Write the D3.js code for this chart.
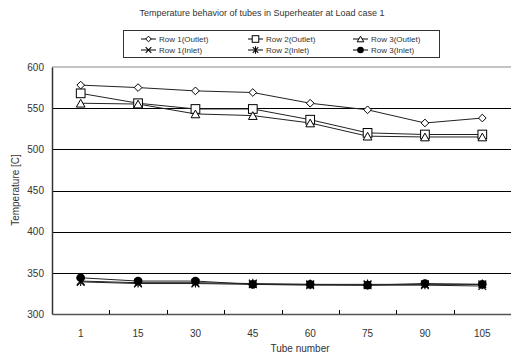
<!DOCTYPE html>
<html>
<head>
<meta charset="utf-8">
<script src="https://cdn.jsdelivr.net/npm/d3@7"></script>
<style>
  body { margin: 0; background: #fff; }
  svg { font-family: "Liberation Sans", Arial, sans-serif; }
  .axis-label { font-size: 10px; fill: #333; }
</style>
</head>
<body>
<div id="plot"></div>
<script>
// categories (tube numbers)
const tubes = ["1", "15", "30", "45", "60", "75", "90", "105"];

// series values
const row1Outlet = [578, 575, 571, 569, 556, 548, 532, 538];
const row2Outlet = [568, 556, 549, 549, 536, 520, 518, 518];
const row3Outlet = [556, 555, 543, 541, 532, 516, 515, 515];
const row1Inlet = [339, 337, 337, 336, 335, 335, 335, 334];
const row2Inlet = [340, 338, 338, 337, 336, 336, 336, 336];
const row3Inlet = [344, 340, 340, 336, 336, 335, 337, 336];

const yTicks = [300, 350, 400, 450, 500, 550, 600];

const series = [
  { name: "Row 1(Outlet)", values: row1Outlet, symbol: "diamond" },
  { name: "Row 2(Outlet)", values: row2Outlet, symbol: "square" },
  { name: "Row 3(Outlet)", values: row3Outlet, symbol: "triangle" },
  { name: "Row 1(Inlet)", values: row1Inlet, symbol: "cross" },
  { name: "Row 2(Inlet)", values: row2Inlet, symbol: "star" },
  { name: "Row 3(Inlet)", values: row3Inlet, symbol: "circle" }
];

const margin = { top: 67, right: 0, bottom: 42, left: 52 };
const W = 511, H = 356;
const width = W - margin.left - margin.right;
const height = H - margin.top - margin.bottom;

const svg = d3.select("#plot").append("svg")
  .attr("width", W).attr("height", H);

const g = svg.append("g").attr("transform", `translate(${margin.left},${margin.top})`);

const x = d3.scaleBand().domain(tubes).range([0, width]);
const y = d3.scaleLinear().domain([300, 600]).range([height, 0]);

// top border (grey)
g.append("line")
  .attr("x1", 0).attr("x2", width).attr("y1", 0).attr("y2", 0)
  .attr("stroke", "#888").attr("stroke-width", 1);

// gridlines
g.selectAll(".grid").data(yTicks.filter(v => v > 300 && v < 600)).enter()
  .append("line")
  .attr("x1", 0).attr("x2", width)
  .attr("y1", d => Math.round(y(d)) + 0.5).attr("y2", d => Math.round(y(d)) + 0.5)
  .attr("stroke", "#000").attr("stroke-width", 1);

// y axis
const yAxis = g.append("g").call(d3.axisLeft(y).tickValues(yTicks).tickSize(0).tickPadding(8));
yAxis.select(".domain").attr("stroke", "#333").attr("stroke-width", 1.5);
yAxis.selectAll("text").style("font-size", "10px").attr("fill", "#333");

// x axis
const xAxis = g.append("g").attr("transform", `translate(0,${height})`)
  .call(d3.axisBottom(x).tickSize(0).tickPadding(16));
xAxis.select(".domain").attr("stroke", "#555").attr("stroke-width", 1.5);
xAxis.selectAll("text").style("font-size", "10px").attr("fill", "#333");

// tick marks between categories (pointing up)
g.selectAll(".xtick").data(tubes.slice(1)).enter()
  .append("line")
  .attr("x1", d => Math.round(x(d)) + 0.5).attr("x2", d => Math.round(x(d)) + 0.5)
  .attr("y1", height).attr("y2", height - 4)
  .attr("stroke", "#000");

// symbol helper, k scales the marker
function drawSymbol(sel, symbol, cx, cy, k) {
  const r = 3.5 * k;
  if (symbol === "diamond") {
    sel.append("path").attr("d", `M${cx},${cy - r}L${cx + r},${cy}L${cx},${cy + r}L${cx - r},${cy}Z`)
      .attr("fill", "#fff").attr("stroke", "#000");
  } else if (symbol === "square") {
    sel.append("rect").attr("x", cx - r - 0.5).attr("y", cy - r - 0.5).attr("width", 2 * r + 1).attr("height", 2 * r + 1)
      .attr("fill", "#fff").attr("stroke", "#000");
  } else if (symbol === "triangle") {
    sel.append("path").attr("d", `M${cx},${cy - r}L${cx + r + 0.5},${cy + r}L${cx - r - 0.5},${cy + r}Z`)
      .attr("fill", "#fff").attr("stroke", "#000");
  } else if (symbol === "cross") {
    sel.append("path").attr("d", `M${cx - r},${cy - r}L${cx + r},${cy + r}M${cx - r},${cy + r}L${cx + r},${cy - r}`)
      .attr("stroke", "#000").attr("stroke-width", 1.1);
  } else if (symbol === "star") {
    sel.append("path").attr("d", `M${cx - r},${cy - r}L${cx + r},${cy + r}M${cx - r},${cy + r}L${cx + r},${cy - r}M${cx},${cy - r - 1}L${cx},${cy + r + 1}`)
      .attr("stroke", "#000").attr("stroke-width", 1.1);
  } else if (symbol === "circle") {
    sel.append("circle").attr("cx", cx).attr("cy", cy).attr("r", r + 0.5).attr("fill", "#000");
  }
}

const line = d3.line()
  .x((d, i) => x(tubes[i]) + x.bandwidth() / 2)
  .y(d => y(d));

series.forEach(s => {
  g.append("path").datum(s.values)
    .attr("d", line)
    .attr("fill", "none").attr("stroke", "#222").attr("stroke-width", 1);
});
series.forEach(s => {
  const sg = g.append("g");
  s.values.forEach((v, i) => drawSymbol(sg, s.symbol, x(tubes[i]) + x.bandwidth() / 2, y(v), 1.1));
});

// title
svg.append("text")
  .attr("x", 262).attr("y", 16)
  .attr("text-anchor", "middle")
  .style("font-size", "9px").attr("fill", "#333")
  .text("Temperature behavior of tubes in Superheater at Load case 1");

// axis labels
svg.append("text").attr("class", "axis-label")
  .attr("x", 300).attr("y", 352).attr("text-anchor", "middle")
  .text("Tube number");
svg.append("text").attr("class", "axis-label")
  .attr("transform", "translate(19,190) rotate(-90)").attr("text-anchor", "middle")
  .text("Temperature [C]");

// legend
const legend = svg.append("g");
legend.append("rect")
  .attr("x", 123.5).attr("y", 30.5).attr("width", 316).attr("height", 27)
  .attr("fill", "#fff").attr("stroke", "#333").attr("stroke-width", 1);
const colX = [141, 248, 353];
const rowY = [39, 50];
series.forEach((s, i) => {
  const cx = colX[i % 3], cy = rowY[Math.floor(i / 3)];
  const item = legend.append("g");
  item.append("line").attr("x1", cx).attr("x2", cx + 15).attr("y1", cy).attr("y2", cy)
    .attr("stroke", "#000");
  drawSymbol(item, s.symbol, cx + 7.5, cy, 0.8);
  item.append("text").attr("x", cx + 18).attr("y", cy + 3)
    .style("font-size", "8px").attr("fill", "#333").text(s.name);
});
</script>
</body>
</html>
